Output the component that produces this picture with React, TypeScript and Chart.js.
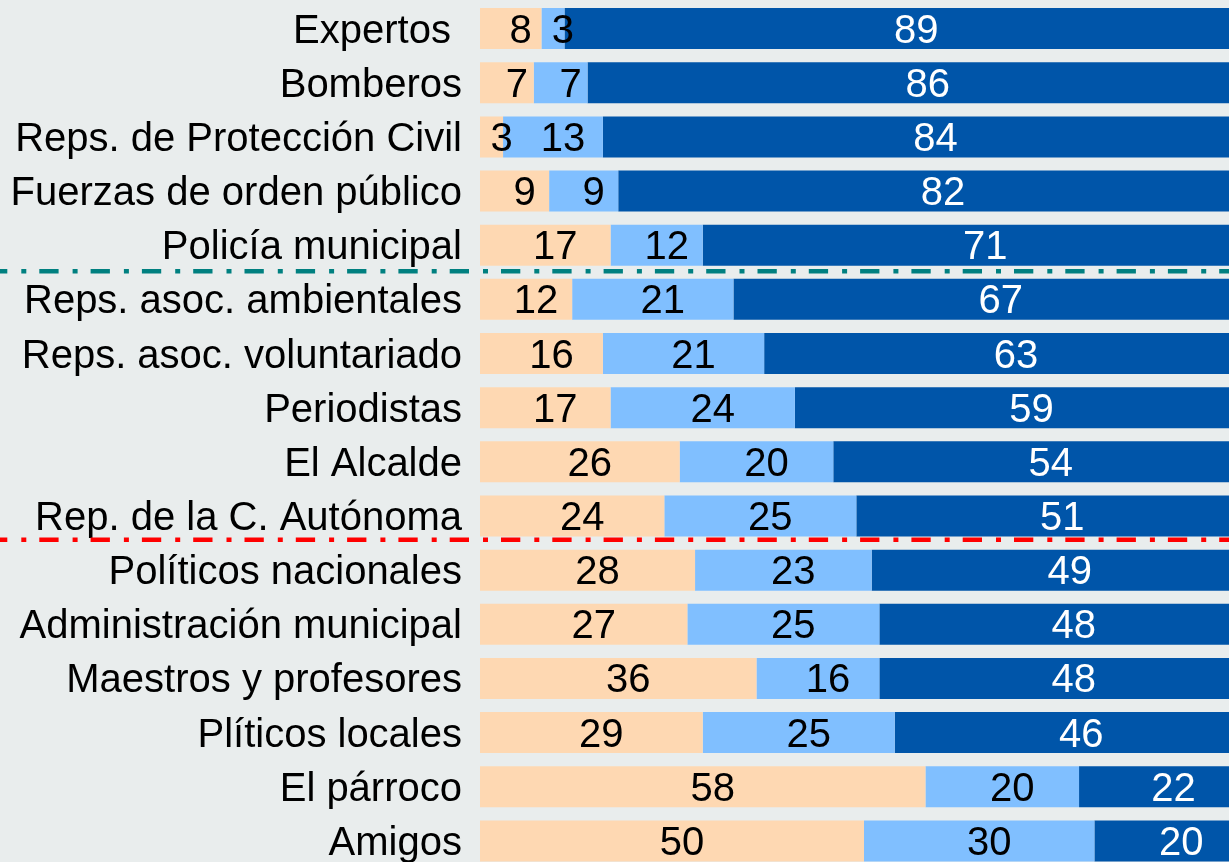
import React, { useEffect, useRef } from "react";
import { Chart, registerables } from "chart.js";

Chart.register(...registerables);

const categories = [
  "Expertos ",
  "Bomberos",
  "Reps. de Protección Civil",
  "Fuerzas de orden público",
  "Policía municipal",
  "Reps. asoc. ambientales",
  "Reps. asoc. voluntariado",
  "Periodistas",
  "El Alcalde",
  "Rep. de la C. Autónoma",
  "Políticos nacionales",
  "Administración municipal",
  "Maestros y profesores",
  "Plíticos locales",
  "El párroco",
  "Amigos",
];

const seriesLow = [8, 7, 3, 9, 17, 12, 16, 17, 26, 24, 28, 27, 36, 29, 58, 50];
const seriesMid = [3, 7, 13, 9, 12, 21, 21, 24, 20, 25, 23, 25, 16, 25, 20, 30];
const seriesHigh = [89, 86, 84, 82, 71, 67, 63, 59, 54, 51, 49, 48, 48, 46, 22, 20];

// separator lines, positioned on the category axis (index units)
const separatorPositions = [4.48, 9.44];
const separatorColors = ["#008080", "#ff0000"];

const BG = "#e9eded";
const FONT = "'Liberation Sans', Arial, sans-serif";

export default function App() {
  const ref = useRef<HTMLCanvasElement | null>(null);

  useEffect(() => {
    document.body.style.margin = "0";
    document.body.style.background = BG;
    const canvas = ref.current;
    if (!canvas) return;

    const valueLabels = {
      id: "valueLabels",
      afterDatasetsDraw(chart: any) {
        const ctx = chart.ctx;
        ctx.save();
        ctx.font = `40px ${FONT}`;
        ctx.textAlign = "center";
        ctx.textBaseline = "middle";
        chart.data.datasets.forEach((ds: any, di: number) => {
          const meta = chart.getDatasetMeta(di);
          meta.data.forEach((bar: any, i: number) => {
            const v = ds.data[i];
            const cx = (bar.x + bar.base) / 2 + 10;
            ctx.fillStyle = di === 2 ? "#ffffff" : "#000000";
            ctx.fillText(String(v), cx, bar.y + 3);
          });
        });
        ctx.restore();
      },
    };

    const separators = {
      id: "separators",
      afterDraw(chart: any) {
        const ctx = chart.ctx;
        const y = chart.scales.y;
        ctx.save();
        ctx.lineWidth = 4.5;
        ctx.setLineDash([19.3, 14, 5, 13]);
        ctx.lineDashOffset = 12;
        separatorPositions.forEach((p, k) => {
          const py = y.getPixelForValue(p);
          ctx.strokeStyle = separatorColors[k];
          ctx.beginPath();
          ctx.moveTo(0, py);
          ctx.lineTo(chart.width, py);
          ctx.stroke();
        });
        ctx.restore();
      },
    };

    const chart = new Chart(canvas, {
      type: "bar",
      data: {
        labels: categories,
        datasets: [
          { data: seriesLow, backgroundColor: "#fed8b2", borderWidth: 0 },
          { data: seriesMid, backgroundColor: "#80bfff", borderWidth: 0 },
          { data: seriesHigh, backgroundColor: "#0055a9", borderWidth: 0 },
        ],
      },
      options: {
        indexAxis: "y",
        responsive: false,
        animation: false,
        devicePixelRatio: 1,
        layout: { padding: { top: 1.5, left: 0, right: 0, bottom: 0 } },
        plugins: {
          legend: { display: false },
          tooltip: { enabled: false },
        },
        datasets: {
          bar: { categoryPercentage: 1, barPercentage: 0.757 },
        },
        scales: {
          x: { stacked: true, min: 0, max: 100, display: false },
          y: {
            stacked: true,
            grid: { display: false, drawTicks: false },
            border: { display: false },
            ticks: {
              color: "#000000",
              font: { family: FONT, size: 40 },
              padding: 18,
              labelOffset: 3,
            },
            afterFit(scale: any) {
              scale.width = 480;
              scale.paddingTop = 0;
              scale.paddingBottom = 0;
            },
          },
        },
      } as any,
      plugins: [valueLabels, separators],
    });
    return () => chart.destroy();
  }, []);

  return (
    <div
      style={{
        position: "fixed",
        left: 0,
        top: 0,
        width: 1229,
        height: 862,
        overflow: "hidden",
        background: BG,
      }}
    >
      <canvas ref={ref} width={1248} height={868} style={{ display: "block" }} />
    </div>
  );
}
